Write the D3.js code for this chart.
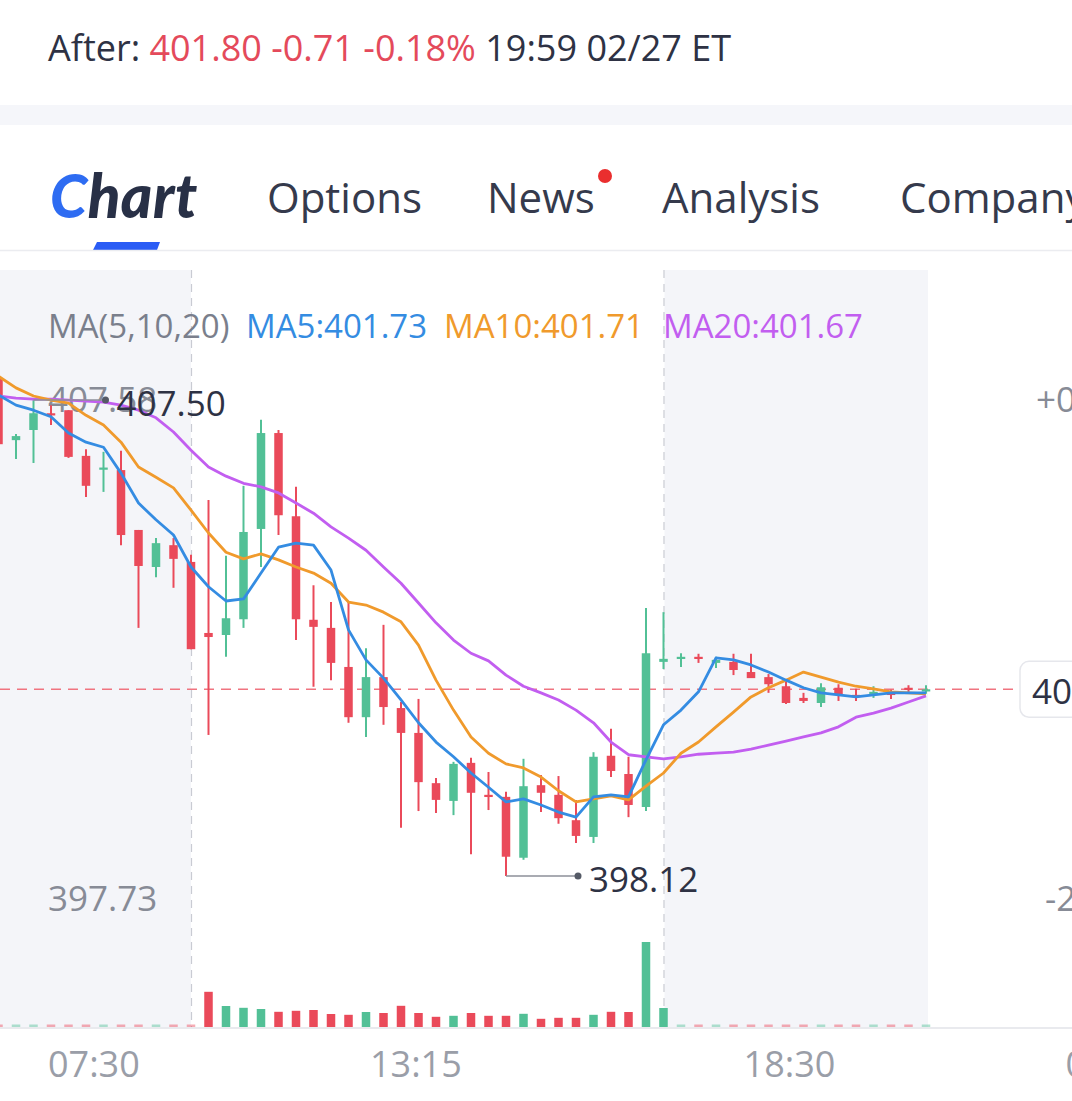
<!DOCTYPE html>
<html>
<head>
<meta charset="utf-8">
<script src="https://cdn.jsdelivr.net/npm/d3@7"></script>
<style>
  html, body { margin: 0; padding: 0; background: #fff; }
  svg { display: block; font-family: "Open Sans", "Noto Sans", sans-serif; }
</style>
</head>
<body>
<svg id="chart" width="1072" height="1101"></svg>
<script>
// ----- data -----
// sessions: 12 pre-market, 27 regular, 15 after-hours candles
const sessionCounts = [12, 27, 15];

const opens  = [407.93, 406.71, 406.91, 407.24, 407.30, 406.40, 406.15, 406.12, 404.94, 404.21, 404.64, 404.31,
                402.91, 402.87, 403.18, 404.96, 406.85, 405.21, 403.17, 403.01, 402.24, 401.25, 402.04, 401.43, 400.94, 399.95,
                399.60, 400.35, 399.72, 399.68, 398.48, 399.91, 399.72, 399.22, 398.89, 400.49, 400.13, 399.48, 402.34,
                402.40, 402.44, 402.32, 402.34, 402.14, 402.04, 401.86, 401.63, 401.53, 401.83, 401.69, 401.73, 401.73, 401.83, 401.78];
const highs  = [408.05, 406.83, 407.50, 407.40, 407.30, 406.53, 406.48, 406.50, 404.94, 404.78, 404.78, 404.45,
                405.53, 404.43, 405.81, 407.11, 406.91, 405.79, 403.85, 403.52, 403.52, 402.61, 403.07, 401.55, 401.61, 400.05,
                400.37, 400.45, 400.17, 399.78, 400.43, 400.11, 400.09, 399.62, 400.56, 401.02, 400.47, 403.40, 403.32,
                402.51, 402.50, 402.44, 402.50, 402.50, 402.10, 401.98, 401.73, 401.92, 401.90, 401.81, 401.86, 401.79, 401.88, 401.88];
const lows   = [406.59, 406.34, 406.26, 407.01, 406.36, 405.59, 405.69, 404.64, 403.01, 404.01, 403.80, 402.59,
                400.90, 402.44, 403.01, 404.21, 404.84, 402.77, 401.85, 401.98, 401.14, 400.86, 401.10, 399.07, 399.40, 399.36,
                399.32, 398.55, 399.42, 398.12, 398.44, 399.38, 399.15, 398.77, 398.77, 400.07, 399.28, 399.40, 402.20,
                402.24, 402.32, 402.22, 402.08, 402.02, 401.73, 401.51, 401.53, 401.45, 401.57, 401.57, 401.63, 401.61, 401.73, 401.71];
const closes = [406.63, 406.79, 407.24, 407.21, 406.38, 405.81, 406.17, 404.84, 404.23, 404.68, 404.37, 402.59,
                402.83, 403.20, 404.90, 406.85, 405.23, 403.18, 403.03, 402.32, 401.25, 402.04, 401.45, 400.94, 399.97, 399.62,
                400.33, 399.76, 399.68, 398.50, 399.89, 399.76, 399.26, 398.91, 400.47, 400.19, 399.52, 402.51, 402.40,
                402.44, 402.40, 402.38, 402.18, 402.02, 401.90, 401.53, 401.57, 401.84, 401.69, 401.65, 401.75, 401.71, 401.79, 401.80];
// volume in thousands (only the regular session trades show bars)
const volumes = [0, 0, 0, 0, 0, 0, 0, 0, 0, 0, 0, 0,
                 352, 210, 192, 180, 152, 162, 170, 130, 122, 150, 140, 212, 140, 102,
                 112, 140, 112, 112, 132, 82, 92, 92, 122, 152, 150, 850, 190,
                 0, 0, 0, 0, 0, 0, 0, 0, 0, 0, 0, 0, 0, 0, 0];

const ma5  = [407.60, 407.40, 407.30, 407.17, 406.85, 406.67, 406.57, 406.06, 405.47, 405.14, 404.84, 404.21,
              403.82, 403.54, 403.58, 404.09, 404.60, 404.68, 404.64, 404.15, 402.97, 402.38, 402.02, 401.59, 401.14, 400.76,
              400.47, 400.15, 399.87, 399.58, 399.64, 399.52, 399.38, 399.28, 399.68, 399.72, 399.68, 400.41, 401.10,
              401.39, 401.75, 402.42, 402.38, 402.28, 402.14, 401.98, 401.83, 401.73, 401.69, 401.65, 401.69, 401.73, 401.73, 401.73];
const ma10 = [407.97, 407.74, 407.58, 407.50, 407.44, 407.20, 407.01, 406.67, 406.18, 405.98, 405.77, 405.33,
              404.88, 404.50, 404.37, 404.47, 404.35, 404.21, 404.09, 403.89, 403.52, 403.46, 403.32, 403.13, 402.67, 401.98,
              401.39, 400.86, 400.54, 400.33, 400.25, 400.07, 399.80, 399.58, 399.64, 399.70, 399.62, 399.89, 400.15,
              400.54, 400.76, 401.06, 401.35, 401.65, 401.83, 401.98, 402.14, 402.04, 401.94, 401.86, 401.81, 401.75, 401.73, 401.71];
const ma20 = [407.58, 407.54, 407.52, 407.52, 407.50, 407.48, 407.46, 407.40, 407.30, 407.15, 406.87, 406.51,
              406.18, 406.00, 405.86, 405.79, 405.67, 405.47, 405.27, 405.00, 404.78, 404.54, 404.21, 403.89, 403.50, 403.11,
              402.77, 402.51, 402.36, 402.08, 401.86, 401.73, 401.59, 401.39, 401.14, 400.76, 400.51, 400.47, 400.43,
              400.47, 400.52, 400.54, 400.56, 400.62, 400.70, 400.78, 400.86, 400.94, 401.06, 401.25, 401.33, 401.43, 401.55, 401.67];

const priceTicks = [407.58, 397.73];
const pctTicks = ["+0.32%", "-2.10%"];
const timeLabels = ["07:30", "13:15", "18:30", "04:00"];
const timeLabelAt = [5.45, 23.85, 45.2, 63.6];   // candle index under each label
const lastPrice = 401.80;
const maLegend = [
  {text: "MA(5,10,20)", color: "#7a7f8c"},
  {text: "MA5:401.73", color: "#348ce2"},
  {text: "MA10:401.71", color: "#f09a2c"},
  {text: "MA20:401.67", color: "#c25ef0"}
];
const tabs = ["Options", "News", "Analysis", "Company"];

// ----- colours -----
const UP = "#52c096", DOWN = "#ea4a5a", DARK = "#2e3244", GREY = "#878b96";

const svg = d3.select('#chart');

// Part 1: header
svg.append('rect').attr('x', 0).attr('y', 105).attr('width', 1072).attr('height', 20).attr('fill', '#f5f6fa');
const head = svg.append('text').attr('x', 48).attr('y', 61).attr('font-size', 36).attr('fill', DARK);
head.append('tspan').text('After: ');
head.append('tspan').attr('fill', '#e44a5b').text('401.80 -0.71 -0.18%');
head.append('tspan').text(' 19:59 02/27 ET');

// Part 2: tabs
const logo = svg.append('text').attr('x', 50).attr('y', 218)
  .attr('font-family', 'Lato, "Open Sans", sans-serif')
  .attr('font-size', 60).attr('font-weight', 900).attr('font-style', 'italic')
  .attr('letter-spacing', 0.5);
logo.append('tspan').attr('fill', '#2e6cf2').text('C');
logo.append('tspan').attr('fill', '#283046').text('hart');
svg.append('path').attr('d', 'M97,242 L160,242 L157,250 L93,250 Z').attr('fill', '#2a5cf5');
const tabX = [267, 487, 662, 900];
svg.selectAll('text.tab')
   .data(tabs)
   .join('text')
   .attr('class', 'tab')
   .attr('x', (d, i) => tabX[i])
   .attr('y', 213)
   .attr('font-size', 42)
   .attr('fill', '#353a4c')
   .text(d => d);
svg.append('circle').attr('cx', 605).attr('cy', 176).attr('r', 7).attr('fill', '#ea2e2e');
svg.append('line').attr('x1', 0).attr('x2', 1072).attr('y1', 250.5).attr('y2', 250.5)
   .attr('stroke', '#ebecf0').attr('stroke-width', 1.5);

// Part 3: scales
const n = closes.length;
const x = d3.scaleLinear().domain([0, n - 1]).range([-1.5, -1.5 + 17.5 * (n - 1)]);
const y = d3.scaleLinear().domain([priceTicks[1], priceTicks[0]]).range([895.8, 396]);
const vol = d3.scaleLinear().domain([0, d3.max(volumes)]).range([1027, 942]);

const preEnd = sessionCounts[0] - 1;
const aftStart = sessionCounts[0] + sessionCounts[1] - 1;
const plotTop = 270, plotBottom = 1027;

// Part 4: session shading and separators
svg.append('rect').attr('x', 0).attr('y', plotTop).attr('width', x(preEnd)).attr('height', plotBottom - plotTop).attr('fill', '#f4f5f9');
svg.append('rect').attr('x', x(aftStart) + 1).attr('y', plotTop).attr('width', x(n - 1) - x(aftStart) + 1)
   .attr('height', plotBottom - plotTop).attr('fill', '#f4f5f9');
svg.selectAll('line.sep')
   .data([preEnd, aftStart])
   .join('line')
   .attr('class', 'sep')
   .attr('x1', d => x(d) + 0.5).attr('x2', d => x(d) + 0.5)
   .attr('y1', plotTop).attr('y2', plotBottom)
   .attr('stroke', '#c9cbd3').attr('stroke-width', 1.2).attr('stroke-dasharray', '8 6');

// Part 5: MA legend
const legendX = [48, 246, 444, 663];
svg.selectAll('text.legend')
   .data(maLegend)
   .join('text')
   .attr('class', 'legend')
   .attr('x', (d, i) => legendX[i])
   .attr('y', 338)
   .attr('font-size', 33)
   .attr('fill', d => d.color)
   .text(d => d.text);

// Part 6: axis labels
svg.selectAll('text.ptick')
   .data(priceTicks)
   .join('text')
   .attr('class', 'ptick')
   .attr('x', 48).attr('y', d => y(d) + 2)
   .attr('dominant-baseline', 'central')
   .attr('font-size', 35).attr('fill', GREY)
   .text(d => d.toFixed(2));
svg.selectAll('text.pct')
   .data(pctTicks)
   .join('text')
   .attr('class', 'pct')
   .attr('x', (d, i) => i === 0 ? 1036 : 1045)
   .attr('y', (d, i) => y(priceTicks[i]) + 2)
   .attr('dominant-baseline', 'central')
   .attr('font-size', 35).attr('fill', GREY)
   .text(d => d);
svg.selectAll('text.time')
   .data(timeLabels)
   .join('text')
   .attr('class', 'time')
   .attr('x', (d, i) => x(timeLabelAt[i]))
   .attr('y', 1063)
   .attr('text-anchor', 'middle')
   .attr('dominant-baseline', 'central')
   .attr('font-size', 36).attr('fill', '#9a9ea8')
   .text(d => d);

// Part 7: last price line and box
svg.append('line').attr('x1', 0).attr('x2', 1020).attr('y1', y(lastPrice)).attr('y2', y(lastPrice))
   .attr('stroke', '#f07480').attr('stroke-width', 1.5).attr('stroke-dasharray', '10 7');
svg.append('rect').attr('x', 1020).attr('y', y(lastPrice) - 28).attr('width', 80).attr('height', 56)
   .attr('rx', 9).attr('fill', '#fff').attr('stroke', '#e6e7ec').attr('stroke-width', 1.5);
svg.append('text').attr('x', 1032).attr('y', y(lastPrice) + 1).attr('dominant-baseline', 'central')
   .attr('font-size', 35).attr('fill', DARK).text(lastPrice.toFixed(2));

// Part 8: volume
const idx = d3.range(n);
const isUp = i => closes[i] >= opens[i];
const barW = 8.5;
svg.append('line').attr('x1', 0).attr('x2', 1072).attr('y1', plotBottom + 1).attr('y2', plotBottom + 1)
   .attr('stroke', '#e9eaee').attr('stroke-width', 2);
svg.append('g').selectAll('rect')
   .data(idx)
   .join('rect')
   .attr('x', i => x(i) - barW / 2)
   .attr('width', barW)
   .attr('y', i => volumes[i] > 0 ? vol(volumes[i]) : plotBottom - 2.5)
   .attr('height', i => volumes[i] > 0 ? plotBottom - vol(volumes[i]) : 2.5)
   .attr('fill', i => isUp(i) ? UP : DOWN)
   .attr('opacity', i => volumes[i] > 0 ? 1 : 0.45);

// Part 9: candles
const candles = svg.append('g');
candles.selectAll('line')
   .data(idx)
   .join('line')
   .attr('x1', i => x(i)).attr('x2', i => x(i))
   .attr('y1', i => y(highs[i])).attr('y2', i => y(lows[i]))
   .attr('stroke', i => isUp(i) ? UP : DOWN)
   .attr('stroke-width', 2);
candles.selectAll('rect')
   .data(idx)
   .join('rect')
   .attr('x', i => x(i) - barW / 2)
   .attr('width', barW)
   .attr('y', i => y(Math.max(opens[i], closes[i])))
   .attr('height', i => Math.max(2.2, Math.abs(y(opens[i]) - y(closes[i]))))
   .attr('fill', i => isUp(i) ? UP : DOWN);

// Part 10: moving averages
const line = d3.line().x((d, i) => x(i)).y(d => y(d)).curve(d3.curveLinear);
[[ma20, '#c25ef0'], [ma10, '#f09a2c'], [ma5, '#348ce2']].forEach(([s, c]) => {
  svg.append('path').attr('d', line(s)).attr('fill', 'none')
     .attr('stroke', c).attr('stroke-width', 2.8).attr('stroke-linejoin', 'round');
});

// Part 11: high / low markers
const hiI = d3.maxIndex(highs.slice(1)) + 1, loI = d3.minIndex(lows);
[[hiI, highs[hiI]], [loI, lows[loI]]].forEach(([i, v]) => {
  const x0 = x(i), x1 = x(i) + 72, yy = y(v);
  svg.append('line').attr('x1', x0).attr('x2', x1).attr('y1', yy).attr('y2', yy)
     .attr('stroke', '#8c8f99').attr('stroke-width', 1.5);
  svg.append('circle').attr('cx', x1).attr('cy', yy).attr('r', 3.5).attr('fill', '#555a66');
  svg.append('text').attr('x', x1 + 11).attr('y', yy + 2).attr('dominant-baseline', 'central')
     .attr('font-size', 35).attr('fill', DARK).text(v.toFixed(2));
});
</script>
</body>
</html>
